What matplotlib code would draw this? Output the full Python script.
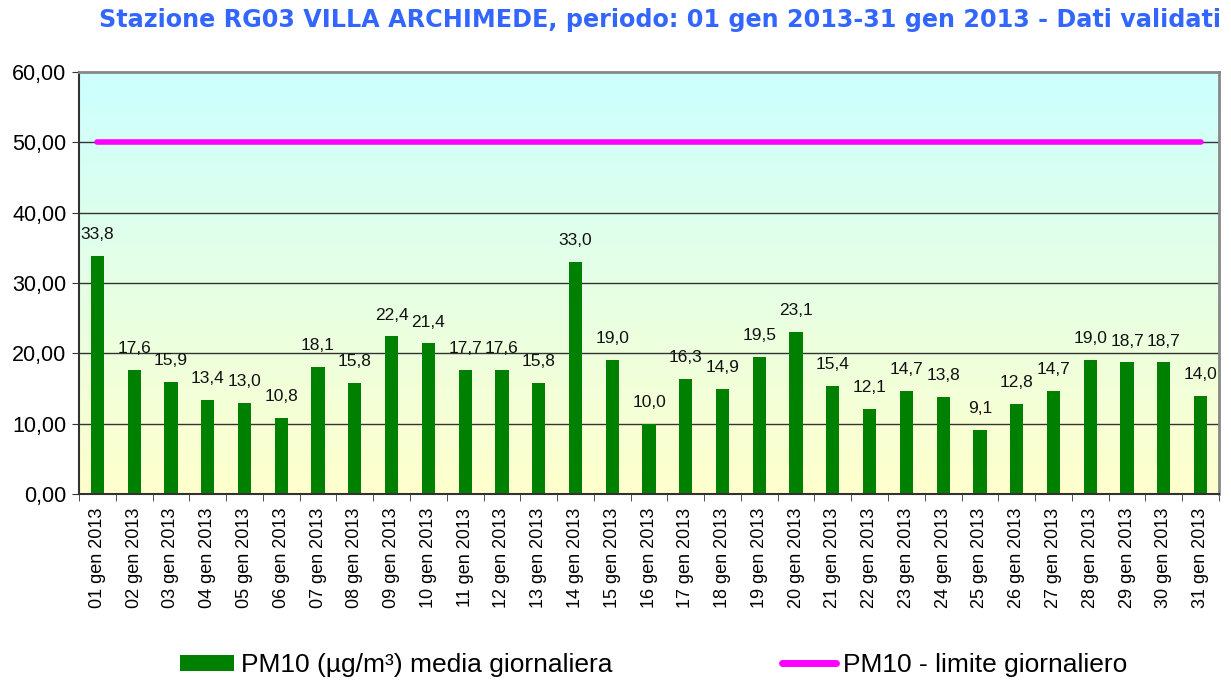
import matplotlib.pyplot as plt
import numpy as np
from matplotlib.patches import Patch
from matplotlib.lines import Line2D
from matplotlib.colors import LinearSegmentedColormap

# Daily PM10 values, January 2013
days = ["%02d gen 2013" % d for d in range(1, 32)]
pm10 = [33.8, 17.6, 15.9, 13.4, 13.0, 10.8, 18.1, 15.8, 22.4, 21.4,
        17.7, 17.6, 15.8, 33.0, 19.0, 10.0, 16.3, 14.9, 19.5, 23.1,
        15.4, 12.1, 14.7, 13.8, 9.1, 12.8, 14.7, 19.0, 18.7, 18.7, 14.0]
limit = [50.0] * len(days)
y_ticks = [0, 10, 20, 30, 40, 50, 60]

title = "Stazione RG03 VILLA ARCHIMEDE, periodo: 01 gen 2013-31 gen 2013 - Dati validati"
bar_color = "#008000"
line_color = "#FF00FF"

plt.rcParams['font.family'] = ['Liberation Sans', 'DejaVu Sans']

fig = plt.figure(figsize=(12.31, 6.81), dpi=100)
ax = fig.add_axes([79 / 1231, 1 - 494 / 681, 1140 / 1231, 422 / 681])

x = np.arange(len(days))

# background gradient: cyan at top, pale yellow at bottom
cmap = LinearSegmentedColormap.from_list("bg", ["#FFFFCC", "#CCFFFF"])
grad = np.linspace(0, 1, 256).reshape(-1, 1)
ax.imshow(grad, extent=[0, 1, 0, 1], transform=ax.transAxes, origin='lower',
          aspect='auto', cmap=cmap, zorder=0)

for yv in y_ticks[1:-1]:
    ax.axhline(yv, color="#333333", lw=1.0, zorder=1)

ax.bar(x, pm10, width=0.36, color=bar_color, zorder=2)
ax.plot(x, limit, color=line_color, lw=4, solid_capstyle='round', zorder=3)

for xi, v in zip(x, pm10):
    ax.annotate(("%.1f" % v).replace(".", ","), (xi, v), xytext=(0, 10),
                textcoords='offset points', ha='center', va='bottom',
                fontsize=12.5, color="#111111", zorder=4)

ax.set_xlim(-0.5, len(days) - 0.5)
ax.set_ylim(0, 60)
ax.set_yticks(y_ticks)
ax.set_yticklabels([("%.2f" % t).replace(".", ",") for t in y_ticks], fontsize=15.5)
ax.set_xticks(x)
ax.set_xticklabels(days, rotation=90, fontsize=13)
ax.tick_params(axis='x', length=0, pad=10)
ax.set_xticks(np.arange(-0.5, len(days)), minor=True)
ax.tick_params(axis='x', which='minor', length=5, direction='out', color="#333333")
ax.tick_params(axis='y', length=5, direction='out', color="#333333", pad=4)

for s in ['left', 'bottom']:
    ax.spines[s].set_color("#333333")
    ax.spines[s].set_linewidth(1.5)
for s in ['top', 'right']:
    ax.spines[s].set_color("#888888")
    ax.spines[s].set_linewidth(2)

fig.text(0.536, 0.970, title, ha='center', va='center', fontsize=17.2,
         fontweight='bold', color="#3366FF", family='DejaVu Sans')

handles = [Patch(facecolor=bar_color, edgecolor='none'),
           Line2D([0], [0], color=line_color, lw=5, solid_capstyle='round')]
fig.legend(handles, ["PM10 (µg/m³) media giornaliera", "PM10 - limite giornaliero"],
           loc='center', bbox_to_anchor=(0.531, 0.023), ncol=2, frameon=False,
           fontsize=19, handlelength=2.05, handleheight=0.6, handletextpad=0.27,
           columnspacing=6.4, borderpad=0.2)

fig.savefig("out.png", dpi=100)
